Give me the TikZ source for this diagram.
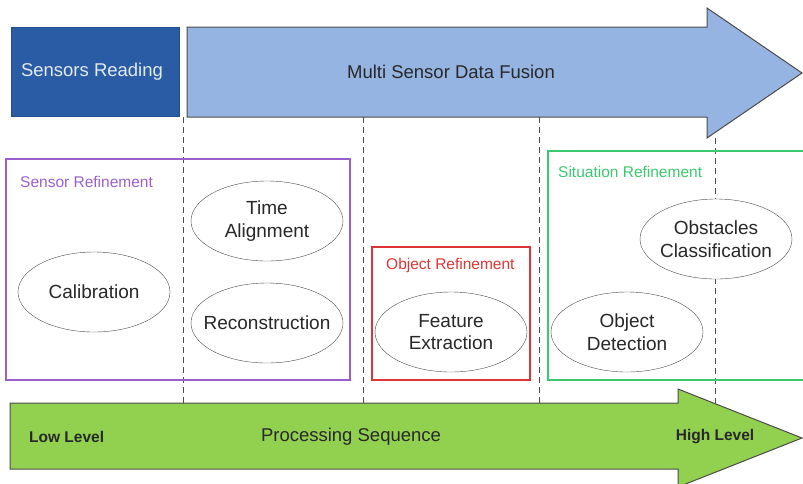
\documentclass[tikz,border=0pt]{standalone}
\usepackage{fontspec}
\setmainfont{Liberation Sans}
\usetikzlibrary{shapes.geometric}
\tikzset{>=latex}
\definecolor{darkblue}{RGB}{41,92,165}
\definecolor{lightblue}{RGB}{149,180,226}
\definecolor{leafgreen}{RGB}{146,208,80}
\definecolor{sensorc}{RGB}{155,95,205}
\definecolor{objectc}{RGB}{222,52,52}
\definecolor{situc}{RGB}{60,200,110}
\definecolor{edgegray}{RGB}{75,75,75}
\definecolor{paletext}{RGB}{228,234,244}
\definecolor{inkgray}{RGB}{40,40,40}
\tikzset{
  tasktext/.style={align=center, text=inkgray, font=\fontsize{19}{22.5}\selectfont, inner sep=0pt},
  task/.style={ellipse, draw=edgegray, fill=white, minimum width=152pt, minimum height=80pt,
    label={[tasktext]center:#1}},
  region/.style={draw=#1, line width=1.3pt},
  regtitle/.style={text=#1, font=\fontsize{15.5}{17}\selectfont, inner sep=0pt, anchor=west},
  bigtext/.style={text=inkgray, font=\fontsize{18.5}{22}\selectfont, inner sep=0pt},
  levtext/.style={text=inkgray, font=\bfseries\fontsize{15.5}{17}\selectfont, inner sep=0pt},
  guide/.style={draw=edgegray, dash pattern=on 6pt off 4pt, line width=0.8pt}
}
\begin{document}
\begin{tikzpicture}[x=1pt,y=-1pt]
\useasboundingbox (0,0) rectangle (803,483);
\foreach \x in {183,363,539}
  \draw[guide] (\x,117) -- (\x,403);
\draw[guide] (715,138) -- (715,403);
\draw[fill=darkblue, draw=darkblue!85!black] (11,27) rectangle (179,116);
\node[bigtext, text=paletext] (reading) at (92,72) {Sensors Reading};
\draw[fill=lightblue, draw=edgegray, line width=1pt] (187,27) -- (707,27) -- (707,8) -- (802,73)
  -- (707,138) -- (707,117) -- (187,117) -- cycle;
\node[bigtext] (fusion) at (451,72) {Multi Sensor Data Fusion};
\draw[region=sensorc] (6,159) rectangle (350,380);
\node[regtitle=sensorc] (sensref) at (20,182) {Sensor Refinement};
\draw[region=objectc] (372,247) rectangle (530,380);
\node[regtitle=objectc] (objref) at (386,265) {Object Refinement};
\draw[region=situc] (548,151) rectangle (812,380);
\node[regtitle=situc] (situref) at (558,172) {Situation Refinement};
\node[task={Calibration}] (calib) at (94,292) {};
\node[task={Time\\Alignment}] (timealign) at (267,221) {};
\node[task={Reconstruction}] (recon) at (267,323) {};
\node[task={Feature\\Extraction}] (feature) at (451,332) {};
\node[task={Object\\Detection}] (detect) at (627,332) {};
\node[task={Obstacles\\Classification}] (classify) at (716,239) {};
\draw[fill=leafgreen, draw=edgegray, line width=1pt] (10,403) -- (678,403) -- (678,389) -- (802,438)
  -- (678,487) -- (678,469) -- (10,469) -- cycle;
\node[levtext, anchor=west] (low) at (29,437) {Low Level};
\node[bigtext] (sequence) at (351,437) {Processing Sequence};
\node[levtext] (high) at (715,437) {High Level};
\end{tikzpicture}
\end{document}
